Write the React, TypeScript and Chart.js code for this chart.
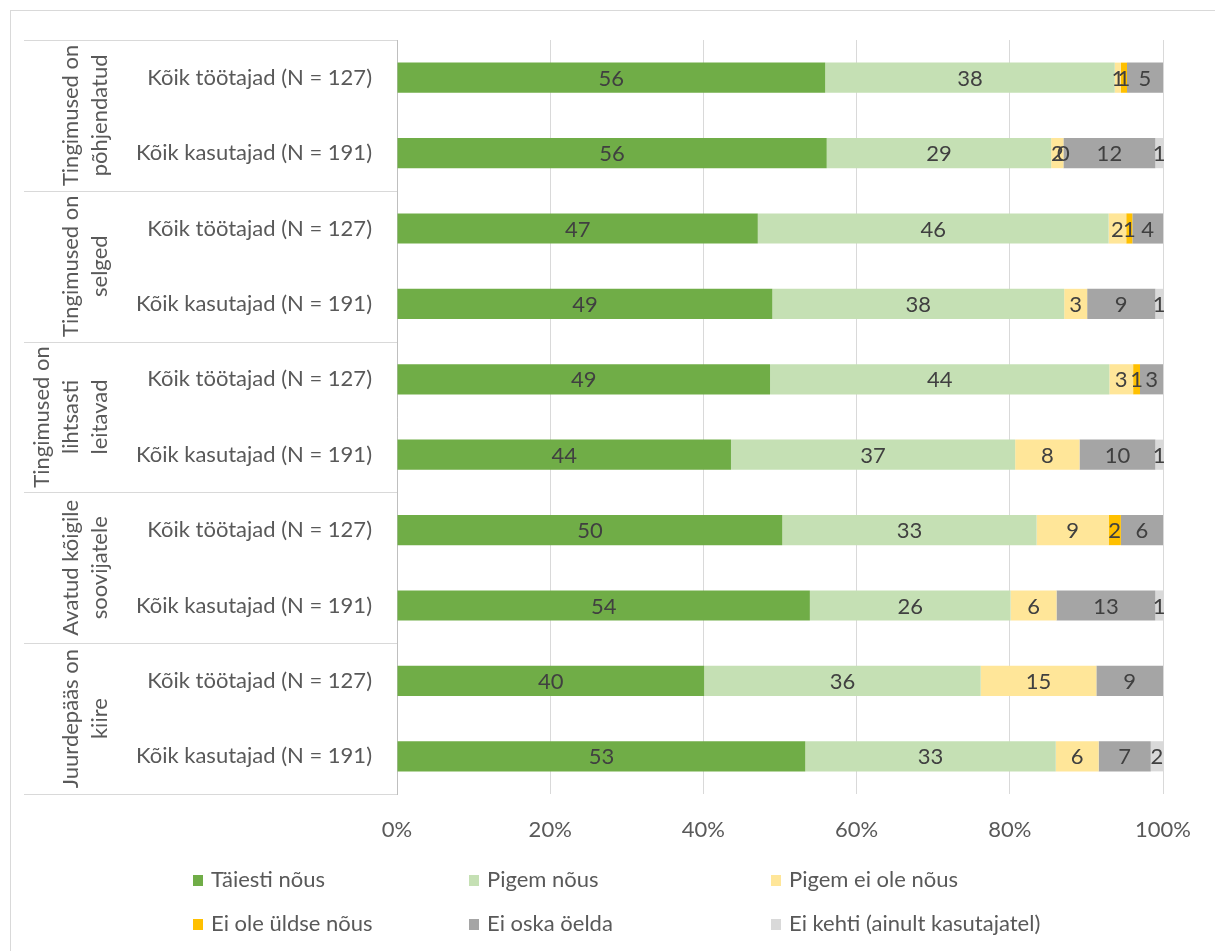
import React, { useEffect, useRef } from "react";
import { Chart, registerables } from "chart.js";
Chart.register(...registerables);

const groups: string[][] = [
  ["Tingimused on", "põhjendatud"],
  ["Tingimused on", "selged"],
  ["Tingimused on", "lihtsasti", "leitavad"],
  ["Avatud kõigile", "soovijatele"],
  ["Juurdepääs on", "kiire"],
];
const categories = [
  "Kõik töötajad (N = 127)", "Kõik kasutajad (N = 191)",
  "Kõik töötajad (N = 127)", "Kõik kasutajad (N = 191)",
  "Kõik töötajad (N = 127)", "Kõik kasutajad (N = 191)",
  "Kõik töötajad (N = 127)", "Kõik kasutajad (N = 191)",
  "Kõik töötajad (N = 127)", "Kõik kasutajad (N = 191)",
];
const seriesNames = [
  "Täiesti nõus", "Pigem nõus", "Pigem ei ole nõus",
  "Ei ole üldse nõus", "Ei oska öelda", "Ei kehti (ainult kasutajatel)",
];
const taiestiNous = [55.9, 56.1, 47.1, 49.0, 48.7, 43.6, 50.3, 53.9, 40.1, 53.3];
const pigemNous = [37.8, 29.3, 45.8, 38.1, 44.3, 37.1, 33.2, 26.2, 36.1, 32.7];
const pigemEiOleNous = [0.8, 1.6, 2.3, 3.0, 3.1, 8.4, 9.4, 6.0, 15.1, 5.6];
const eiOleUldseNous = [0.8, 0, 0.8, null, 0.9, null, 1.6, null, null, null];
const eiOskaOelda = [4.7, 12.0, 4.0, 8.9, 3.0, 9.9, 5.5, 12.9, 8.7, 6.8];
const eiKehti = [null, 1.0, null, 1.0, null, 1.0, null, 1.0, null, 1.6];
const xTicks = [0, 20, 40, 60, 80, 100];

const colors = ["#70ad47", "#c5e0b4", "#ffe699", "#ffc000", "#a5a5a5", "#d9d9d9"];
const FONT = "Lato, sans-serif";
const FS = 22;
const TXT = "#595959";

const dataLabels = {
  id: "dataLabels",
  afterDatasetsDraw(chart: any) {
    const ctx = chart.ctx;
    ctx.save();
    ctx.font = `${FS}px ${FONT}`;
    ctx.fillStyle = "#404040";
    ctx.textAlign = "center";
    ctx.textBaseline = "middle";
    chart.data.datasets.forEach((ds: any, di: number) => {
      const meta = chart.getDatasetMeta(di);
      meta.data.forEach((el: any, i: number) => {
        const v = ds.data[i];
        if (v === null || v === undefined) return;
        const cx = (el.x + el.base) / 2;
        ctx.fillText(String(Math.round(v)), cx, el.y + 1);
      });
    });
    ctx.restore();
  },
};

const groupAxis = {
  id: "groupAxis",
  afterDraw(chart: any) {
    const ctx = chart.ctx;
    const ys = chart.scales.y;
    const area = chart.chartArea;
    const step = ys.getPixelForValue(1) - ys.getPixelForValue(0);
    ctx.save();
    ctx.strokeStyle = "#d9d9d9";
    ctx.lineWidth = 1;
    for (let g = 0; g <= groups.length; g++) {
      const yb = Math.round(ys.getPixelForValue(g * 2) - step / 2) + 0.5;
      ctx.beginPath();
      ctx.moveTo(24, yb);
      ctx.lineTo(area.left, yb);
      ctx.stroke();
    }
    ctx.font = `${FS}px ${FONT}`;
    ctx.fillStyle = TXT;
    ctx.textAlign = "center";
    ctx.textBaseline = "middle";
    groups.forEach((lines, g) => {
      const cy = (ys.getPixelForValue(g * 2) + ys.getPixelForValue(g * 2 + 1)) / 2;
      ctx.save();
      ctx.translate(100, cy);
      ctx.rotate(-Math.PI / 2);
      const n = lines.length;
      lines.forEach((t, i) => {
        ctx.fillText(t, 0, -(n - 1 - i) * 29);
      });
      ctx.restore();
    });
    // legend
    const colX = [193, 469, 771];
    const rowY = [880, 924];
    ctx.textAlign = "left";
    seriesNames.forEach((name, i) => {
      const x = colX[i % 3];
      const y = rowY[Math.floor(i / 3)];
      ctx.fillStyle = colors[i];
      ctx.fillRect(x, y - 5, 10, 11);
      ctx.fillStyle = TXT;
      ctx.fillText(name, x + 18, y);
    });
    ctx.restore();
  },
};

export default function App() {
  const ref = useRef<HTMLCanvasElement>(null);
  useEffect(() => {
    const series = [taiestiNous, pigemNous, pigemEiOleNous, eiOleUldseNous, eiOskaOelda, eiKehti];
    const chart = new Chart(ref.current!, {
      type: "bar",
      data: {
        labels: categories,
        datasets: series.map((d, i) => ({
          label: seriesNames[i],
          data: d as any,
          backgroundColor: colors[i],
          borderWidth: 0,
          categoryPercentage: 1,
          barPercentage: 0.4,
        })),
      },
      options: {
        indexAxis: "y",
        animation: false,
        responsive: false,
        maintainAspectRatio: false,
        layout: { padding: { top: 40, right: 52, left: 0, bottom: 0 } },
        plugins: { legend: { display: false }, tooltip: { enabled: false } },
        scales: {
          x: {
            stacked: true,
            min: 0,
            max: 100,
            afterBuildTicks(scale: any) {
              scale.ticks = xTicks.map((v) => ({ value: v }));
            },
            afterFit(scale: any) {
              scale.height = 157;
            },
            grid: { color: "#d9d9d9", lineWidth: 1, drawTicks: false },
            border: { display: false },
            ticks: {
              padding: 23,
              color: TXT,
              font: { family: FONT, size: FS },
              callback: (v: any) => v + "%",
            },
          },
          y: {
            stacked: true,
            afterFit(scale: any) {
              scale.width = 397;
            },
            grid: { display: false, drawTicks: false },
            border: { display: true, color: "#bfbfbf", width: 1 },
            ticks: {
              padding: 25,
              color: TXT,
              font: { family: FONT, size: FS },
            },
          },
        },
      },
      plugins: [dataLabels, groupAxis],
    });
    return () => chart.destroy();
  }, []);
  return (
    <div style={{ position: "absolute", left: 0, top: 0, width: 1215, height: 951, background: "#fff" }}>
      <div style={{ position: "absolute", left: 10, top: 10, width: 1215, height: 951, borderLeft: "1px solid #d9d9d9", borderTop: "1px solid #d9d9d9" }} />
      <canvas ref={ref} width={1215} height={951} style={{ position: "absolute", left: 0, top: 0 }} />
    </div>
  );
}
